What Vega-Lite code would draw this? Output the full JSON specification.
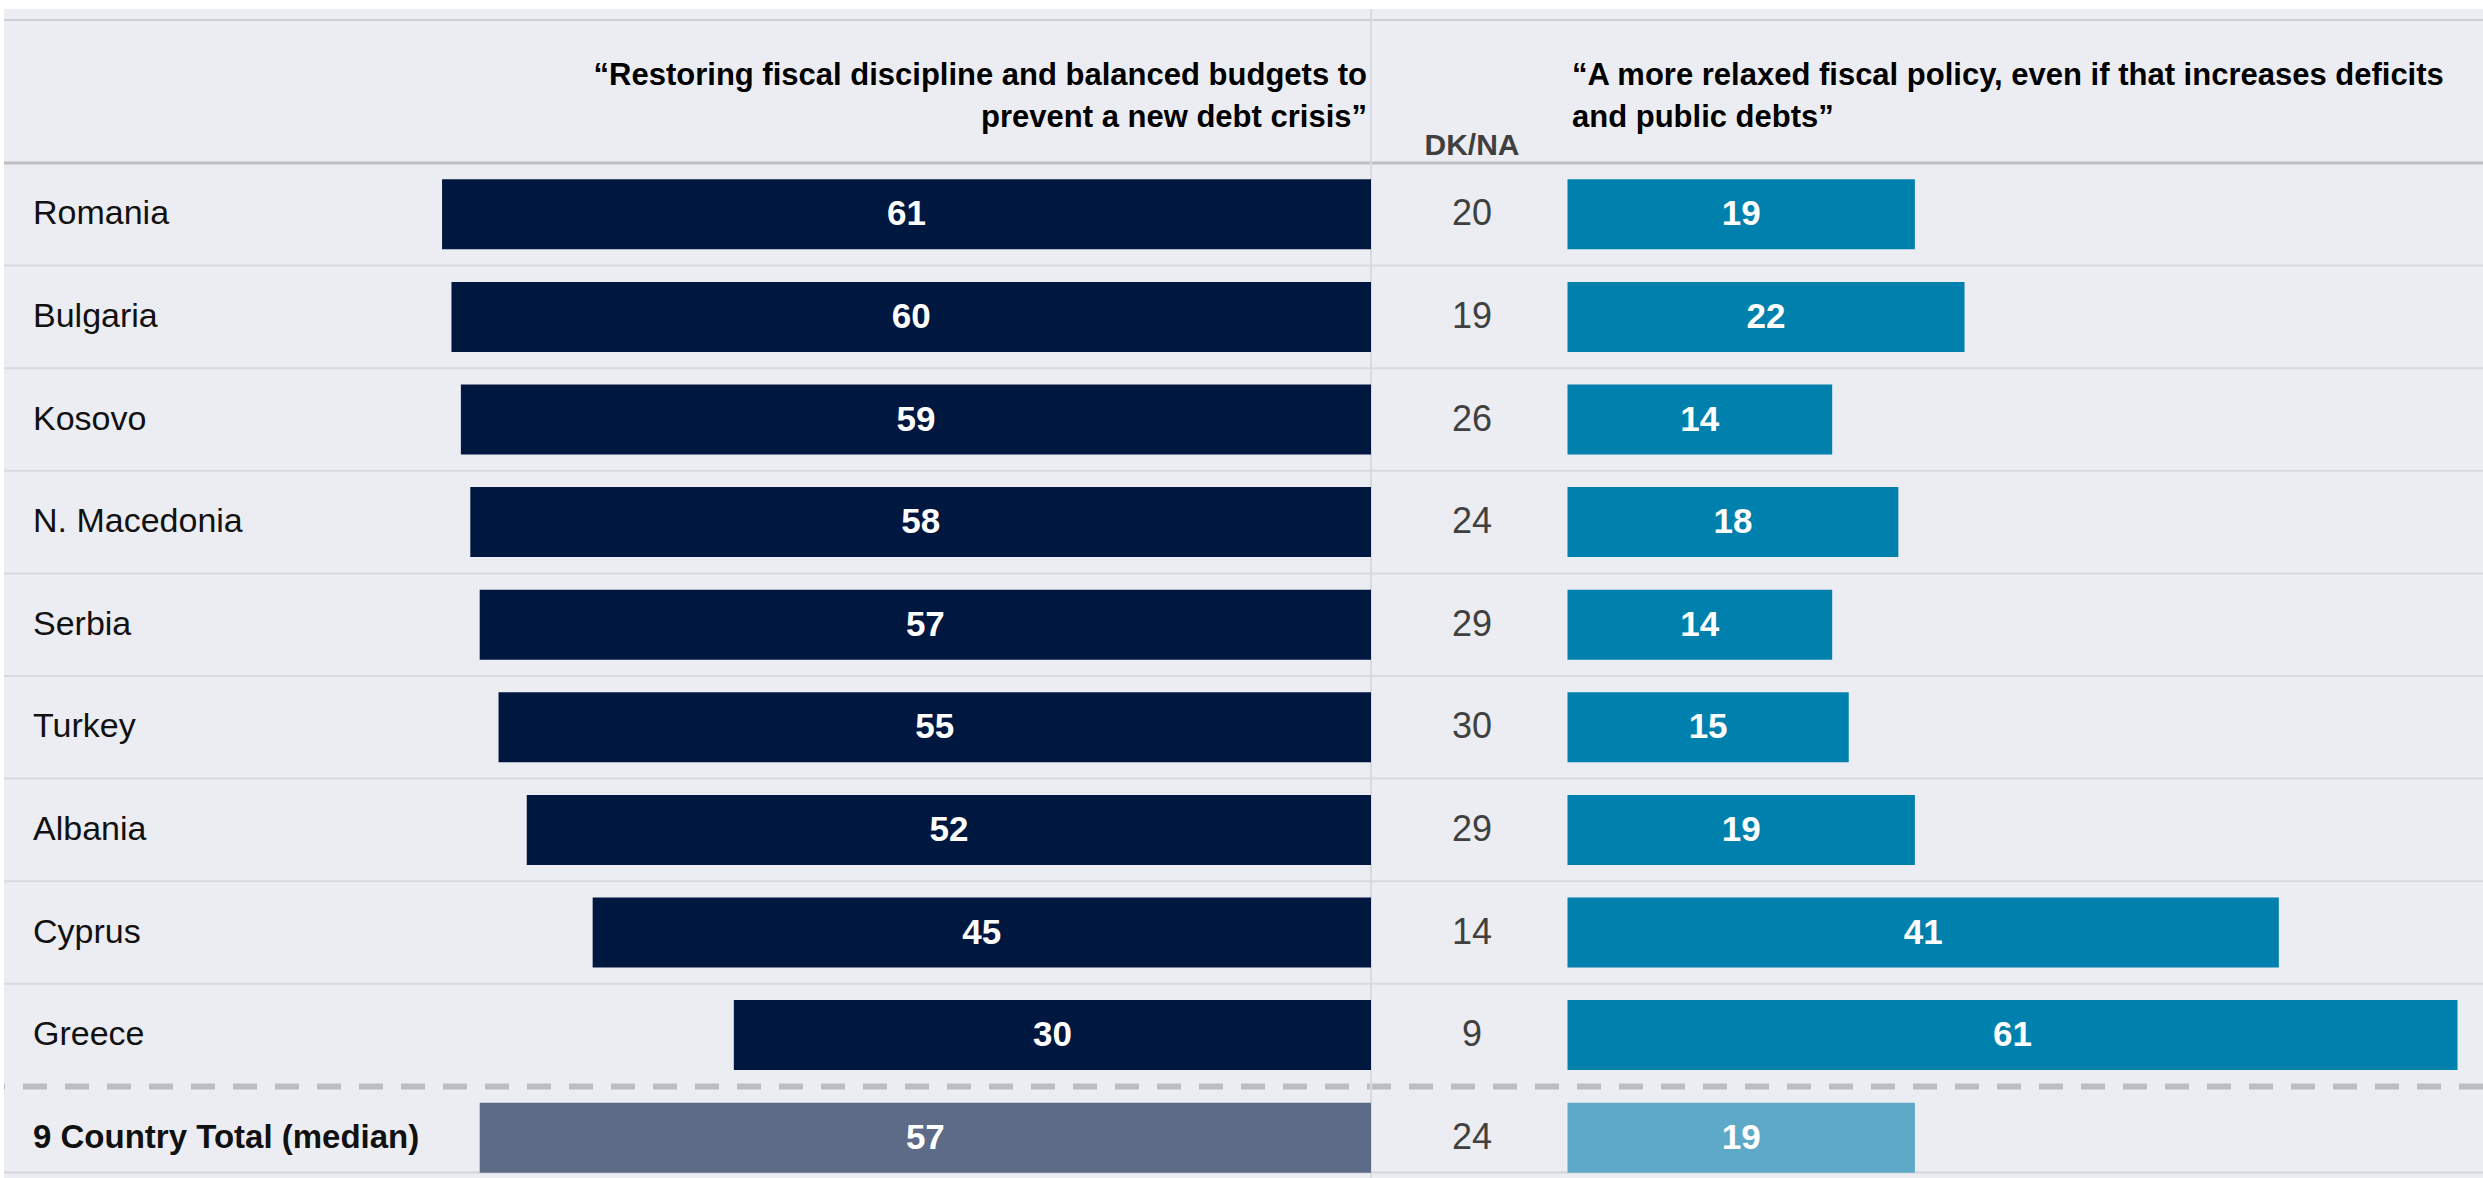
{
  "$schema": "https://vega.github.io/schema/vega-lite/v6.json",
  "width": 2479,
  "height": 1169,
  "padding": {"left": 4, "top": 9, "right": 0, "bottom": 0},
  "autosize": {"type": "none"},
  "background": "#ffffff",
  "config": {
    "view": {"fill": "#ECEDF2", "stroke": null},
    "axis": {"disable": true},
    "legend": {"disable": true},
    "text": {"font": "Liberation Sans"}
  },
  "datasets": {
    "rows": [
      {"country": "Romania", "discipline": 61, "dkna": 20, "relaxed": 19},
      {"country": "Bulgaria", "discipline": 60, "dkna": 19, "relaxed": 22},
      {"country": "Kosovo", "discipline": 59, "dkna": 26, "relaxed": 14},
      {"country": "N. Macedonia", "discipline": 58, "dkna": 24, "relaxed": 18},
      {"country": "Serbia", "discipline": 57, "dkna": 29, "relaxed": 14},
      {"country": "Turkey", "discipline": 55, "dkna": 30, "relaxed": 15},
      {"country": "Albania", "discipline": 52, "dkna": 29, "relaxed": 19},
      {"country": "Cyprus", "discipline": 45, "dkna": 14, "relaxed": 41},
      {"country": "Greece", "discipline": 30, "dkna": 9, "relaxed": 61},
      {"country": "9 Country Total (median)", "discipline": 57, "dkna": 24, "relaxed": 19}
    ],
    "headers": [
      {"side": "left", "lines": ["“Restoring fiscal discipline and balanced budgets to", "prevent a new debt crisis”"]},
      {"side": "right", "lines": ["“A more relaxed fiscal policy, even if that increases deficits", "and public debts”"]},
      {"side": "dk", "lines": ["DK/NA"]}
    ]
  },
  "data": {"name": "rows"},
  "layer": [
    {
      "data": {"values": [{}]},
      "mark": {"type": "rule", "color": "#CFD0D5", "strokeWidth": 2},
      "encoding": {"y": {"datum": 0, "type": "quantitative", "scale": {"domain": [0, 3], "range": [11, 154], "zero": false, "nice": false}}}
    },
    {
      "data": {"values": [{}]},
      "mark": {"type": "rule", "color": "#BDBEC2", "strokeWidth": 3},
      "encoding": {"y": {"datum": 3, "type": "quantitative", "scale": {"domain": [0, 3], "range": [11, 154], "zero": false, "nice": false}}}
    },
    {
      "transform": [{"filter": "datum.country !== 'Romania' && datum.country !== '9 Country Total (median)'"}],
      "mark": {"type": "rule", "color": "#D8D9DF", "strokeWidth": 2},
      "encoding": {"y": {"field": "country", "type": "nominal", "bandPosition": 0, "scale": {"type": "band", "domain": ["Romania", "Bulgaria", "Kosovo", "N. Macedonia", "Serbia", "Turkey", "Albania", "Cyprus", "Greece", "9 Country Total (median)"], "range": [154, 1180], "paddingInner": 0, "paddingOuter": 0}}}
    },
    {
      "transform": [{"filter": "datum.country === '9 Country Total (median)'"}],
      "mark": {"type": "rule", "color": "#BCBDC2", "strokeWidth": 6, "strokeDash": [24, 18]},
      "encoding": {"y": {"field": "country", "type": "nominal", "bandPosition": 0, "scale": {"type": "band", "domain": ["Romania", "Bulgaria", "Kosovo", "N. Macedonia", "Serbia", "Turkey", "Albania", "Cyprus", "Greece", "9 Country Total (median)"], "range": [154, 1180], "paddingInner": 0, "paddingOuter": 0}}}
    },
    {
      "transform": [{"filter": "datum.country === '9 Country Total (median)'"}],
      "mark": {"type": "rule", "color": "#D3D4D9", "strokeWidth": 2},
      "encoding": {"y": {"field": "country", "type": "nominal", "bandPosition": 0.84, "scale": {"type": "band", "domain": ["Romania", "Bulgaria", "Kosovo", "N. Macedonia", "Serbia", "Turkey", "Albania", "Cyprus", "Greece", "9 Country Total (median)"], "range": [154, 1180], "paddingInner": 0, "paddingOuter": 0}}}
    },
    {
      "data": {"values": [{}]},
      "mark": {"type": "rule", "color": "#D8D9DF", "strokeWidth": 2},
      "encoding": {"x": {"datum": -37.7, "type": "quantitative", "scale": {"domain": [-37.7, 100], "range": [1367, 71], "zero": false, "nice": false}}}
    },
    {
      "mark": {"type": "bar", "size": 70},
      "encoding": {
        "y": {"field": "country", "type": "nominal", "scale": {"type": "band", "domain": ["Romania", "Bulgaria", "Kosovo", "N. Macedonia", "Serbia", "Turkey", "Albania", "Cyprus", "Greece", "9 Country Total (median)"], "range": [154, 1180], "paddingInner": 0, "paddingOuter": 0}},
        "x": {"field": "discipline", "type": "quantitative", "scale": {"domain": [-37.7, 100], "range": [1367, 71], "zero": false, "nice": false}},
        "x2": {"datum": -37.7},
        "color": {"condition": {"test": "datum.country === '9 Country Total (median)'", "value": "#5D6B87"}, "value": "#001740"}
      }
    },
    {
      "mark": {"type": "bar", "size": 70},
      "encoding": {
        "y": {"field": "country", "type": "nominal", "scale": {"type": "band", "domain": ["Romania", "Bulgaria", "Kosovo", "N. Macedonia", "Serbia", "Turkey", "Albania", "Cyprus", "Greece", "9 Country Total (median)"], "range": [154, 1180], "paddingInner": 0, "paddingOuter": 0}},
        "x": {"field": "relaxed", "type": "quantitative", "scale": {"domain": [-2, 51.8], "range": [1563.5, 2453.5], "clamp": true, "zero": false, "nice": false}},
        "x2": {"datum": -2},
        "color": {"condition": {"test": "datum.country === '9 Country Total (median)'", "value": "#5FA9C8"}, "value": "#0080AD"}
      }
    },
    {
      "mark": {"type": "text", "font": "Liberation Sans", "fontWeight": "bold", "fontSize": 35, "color": "#ffffff", "align": "center", "baseline": "middle"},
      "encoding": {
        "y": {"field": "country", "type": "nominal", "scale": {"type": "band", "domain": ["Romania", "Bulgaria", "Kosovo", "N. Macedonia", "Serbia", "Turkey", "Albania", "Cyprus", "Greece", "9 Country Total (median)"], "range": [154, 1180], "paddingInner": 0, "paddingOuter": 0}},
        "x": {"field": "discipline", "type": "quantitative", "scale": {"domain": [-37.7, 100], "range": [1367, 719], "zero": false, "nice": false}},
        "text": {"field": "discipline", "type": "quantitative"}
      }
    },
    {
      "mark": {"type": "text", "font": "Liberation Sans", "fontWeight": "bold", "fontSize": 35, "color": "#ffffff", "align": "center", "baseline": "middle"},
      "encoding": {
        "y": {"field": "country", "type": "nominal", "scale": {"type": "band", "domain": ["Romania", "Bulgaria", "Kosovo", "N. Macedonia", "Serbia", "Turkey", "Albania", "Cyprus", "Greece", "9 Country Total (median)"], "range": [154, 1180], "paddingInner": 0, "paddingOuter": 0}},
        "x": {"field": "relaxed", "type": "quantitative", "scale": {"domain": [-2, 51.8], "range": [1563.5, 2008.5], "clamp": true, "zero": false, "nice": false}},
        "text": {"field": "relaxed", "type": "quantitative"}
      }
    },
    {
      "mark": {"type": "text", "font": "Liberation Sans", "fontSize": 36, "color": "#404040", "align": "center", "baseline": "middle"},
      "encoding": {
        "y": {"field": "country", "type": "nominal", "scale": {"type": "band", "domain": ["Romania", "Bulgaria", "Kosovo", "N. Macedonia", "Serbia", "Turkey", "Albania", "Cyprus", "Greece", "9 Country Total (median)"], "range": [154, 1180], "paddingInner": 0, "paddingOuter": 0}},
        "x": {"datum": "DK/NA", "type": "nominal", "scale": {"type": "point", "domain": ["DK/NA"], "range": [1468, 1468]}},
        "text": {"field": "dkna", "type": "quantitative"}
      }
    },
    {
      "transform": [{"filter": "datum.country !== '9 Country Total (median)'"}],
      "mark": {"type": "text", "font": "Liberation Sans", "fontSize": 34, "color": "#111111", "align": "left", "baseline": "middle"},
      "encoding": {
        "y": {"field": "country", "type": "nominal", "scale": {"type": "band", "domain": ["Romania", "Bulgaria", "Kosovo", "N. Macedonia", "Serbia", "Turkey", "Albania", "Cyprus", "Greece", "9 Country Total (median)"], "range": [154, 1180], "paddingInner": 0, "paddingOuter": 0}},
        "x": {"datum": "label", "type": "nominal", "scale": {"type": "point", "domain": ["label"], "range": [29, 29]}},
        "text": {"field": "country", "type": "nominal"}
      }
    },
    {
      "transform": [{"filter": "datum.country === '9 Country Total (median)'"}],
      "mark": {"type": "text", "font": "Liberation Sans", "fontWeight": "bold", "fontSize": 33, "color": "#111111", "align": "left", "baseline": "middle"},
      "encoding": {
        "y": {"field": "country", "type": "nominal", "scale": {"type": "band", "domain": ["Romania", "Bulgaria", "Kosovo", "N. Macedonia", "Serbia", "Turkey", "Albania", "Cyprus", "Greece", "9 Country Total (median)"], "range": [154, 1180], "paddingInner": 0, "paddingOuter": 0}},
        "x": {"datum": "label", "type": "nominal", "scale": {"type": "point", "domain": ["label"], "range": [29, 29]}},
        "text": {"field": "country", "type": "nominal"}
      }
    },
    {
      "data": {"name": "headers"},
      "transform": [{"filter": "datum.side === 'left'"}],
      "mark": {"type": "text", "font": "Liberation Sans", "fontWeight": "bold", "fontSize": 31, "color": "#000000", "align": "right", "baseline": "middle", "lineHeight": 42, "dx": -4, "dy": -16},
      "encoding": {
        "x": {"datum": -37.7, "type": "quantitative", "scale": {"domain": [-37.7, 100], "range": [1367, 71], "zero": false, "nice": false}},
        "y": {"datum": 1.5, "type": "quantitative", "scale": {"domain": [0, 3], "range": [11, 154], "zero": false, "nice": false}},
        "text": {"field": "lines"}
      }
    },
    {
      "data": {"name": "headers"},
      "transform": [{"filter": "datum.side === 'right'"}],
      "mark": {"type": "text", "font": "Liberation Sans", "fontWeight": "bold", "fontSize": 31, "color": "#000000", "align": "left", "baseline": "middle", "lineHeight": 42, "dx": 4.5, "dy": -16},
      "encoding": {
        "x": {"datum": -2, "type": "quantitative", "scale": {"domain": [-2, 51.8], "range": [1563.5, 2453.5], "zero": false, "nice": false}},
        "y": {"datum": 1.5, "type": "quantitative", "scale": {"domain": [0, 3], "range": [11, 154], "zero": false, "nice": false}},
        "text": {"field": "lines"}
      }
    },
    {
      "data": {"name": "headers"},
      "transform": [{"filter": "datum.side === 'dk'"}],
      "mark": {"type": "text", "font": "Liberation Sans", "fontWeight": "bold", "fontSize": 30, "color": "#404040", "align": "center", "baseline": "alphabetic", "dy": -8},
      "encoding": {
        "x": {"datum": "DK/NA", "type": "nominal", "scale": {"type": "point", "domain": ["DK/NA"], "range": [1468, 1468]}},
        "y": {"datum": 3, "type": "quantitative", "scale": {"domain": [0, 3], "range": [11, 154], "zero": false, "nice": false}},
        "text": {"field": "lines"}
      }
    }
  ],
  "resolve": {"scale": {"x": "independent", "y": "independent"}}
}
